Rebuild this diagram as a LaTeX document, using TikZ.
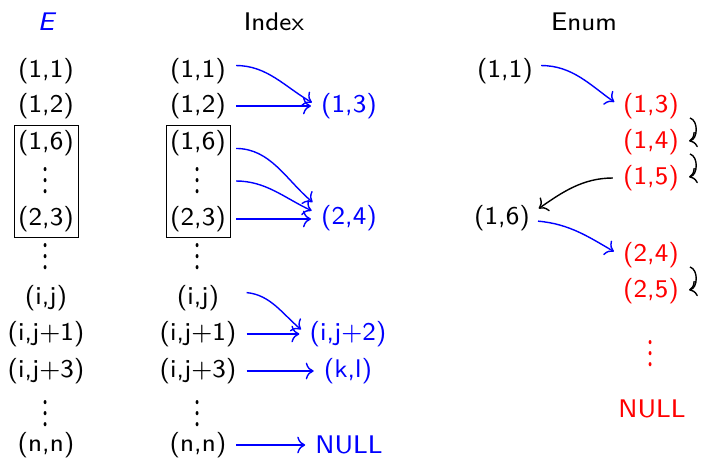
\documentclass[tikz,border=0pt]{standalone}
\usepackage{fontspec}
\setsansfont{lmsans8-regular.otf}[ItalicFont=lmsans8-oblique.otf]
\renewcommand{\familydefault}{\sfdefault}
\newfontfamily\lmmath{latinmodern-math.otf}
\usetikzlibrary{fit, arrows.meta}
\newcommand{\vdotsbig}{{\lmmath\scalebox{1.1}[1.55]{⋮}}}
\tikzstyle{cell}     = [inner sep=3pt]
\tikzstyle{cellblue} = [cell, text=blue]
\tikzstyle{cellred}  = [cell, text=red]
\tikzstyle{link}     = [-{To[scale=1.7]}, line width=1.4pt, draw=blue,
                        shorten <=7pt, shorten >=7pt]
\tikzstyle{back}     = [link, draw=black]
\tikzstyle{hop}      = [-{To[scale=1.6]}, line width=1.4pt, draw=black]

\begin{document}
\begin{tikzpicture}[x=1pt, y=-1pt, font=\fontsize{25.5}{30}\selectfont]
  \useasboundingbox (0,0) rectangle (702,460);

  %% -- headers --
  \node[cellblue] (hE) at (47,22) {\textit{E}};
  \node[cell] (hindex) at (274,22) {Index};
  \node[cell] (henum) at (584,22) {Enum};

  %% -- E column --
  \node[cell] (e11) at (46,71) {(1,1)};
  \node[cell] (e12) at (46,106) {(1,2)};
  \node[cell] (e16) at (46,143) {(1,6)};
  \node[cell] (edots1) at (46,181) {\vdotsbig};
  \node[cell] (e23) at (46,219) {(2,3)};
  \node[cell] (edots2) at (46,257) {\vdotsbig};
  \node[cell] (eij) at (46,298) {(i,j)};
  \node[cell] (eij1) at (46,334) {(i,j+1)};
  \node[cell] (eij3) at (46,371) {(i,j+3)};
  \node[cell] (edots3) at (46,414) {\vdotsbig};
  \node[cell] (enn) at (46,445) {(n,n)};
  \node[draw, line width=0.6pt, inner xsep=1pt, inner ysep=2pt, fit=(e16)(e23)] (ebox) {};

  %% -- Index column --
  \node[cell] (i11) at (198,71) {(1,1)};
  \node[cell] (i12) at (198,106) {(1,2)};
  \node[cell] (i16) at (198,143) {(1,6)};
  \node[cell] (idots1) at (198,181) {\vdotsbig};
  \node[cell] (i23) at (198,219) {(2,3)};
  \node[cell] (idots2) at (198,257) {\vdotsbig};
  \node[cell] (iij) at (198,298) {(i,j)};
  \node[cell] (iij1) at (198,334) {(i,j+1)};
  \node[cell] (iij3) at (198,371) {(i,j+3)};
  \node[cell] (idots3) at (198,414) {\vdotsbig};
  \node[cell] (inn) at (198,445) {(n,n)};
  \node[draw, line width=0.6pt, inner xsep=1pt, inner ysep=2pt, fit=(i16)(i23)] (ibox) {};

  %% -- Index targets --
  \node[cellblue] (t13) at (349,106) {(1,3)};
  \node[cellblue] (t24) at (349,218) {(2,4)};
  \node[cellblue] (tij2) at (348,334) {(i,j+2)};
  \node[cellblue] (tkl) at (348,371) {(k,l)};
  \node[cellblue] (tnull) at (349,445) {NULL};

  \coordinate (idots1out) at (i16.east |- idots1.center);
  \coordinate (iijout) at ([yshift=6pt]iij1.east |- iij.center);

  \draw[link] (i11.10) to[out=0, in=150] (t13.west);
  \draw[link] (i12) -- (t13);
  \draw[link] (i16.-10) to[out=0, in=140] (t24.160);
  \draw[link] (idots1out) to[out=0, in=155] (t24.172);
  \draw[link] (i23.east) -- (i23.east -| t24.west);
  \draw[link] (iijout) to[out=-5, in=140] (tij2.west);
  \draw[link] (iij1) -- (tij2);
  \draw[link] (iij3.east) -- (tkl.west);
  \draw[link] (inn) -- (tnull);

  %% -- Enum column --
  \node[cell] (n11) at (505,71) {(1,1)};
  \node[cell] (n16) at (502,218) {(1,6)};
  \node[cellred] (n13) at (651,106) {(1,3)};
  \node[cellred] (n14) at (651,142) {(1,4)};
  \node[cellred] (n15) at (651,178) {(1,5)};
  \node[cellred] (n24) at (651,255) {(2,4)};
  \node[cellred] (n25) at (651,291) {(2,5)};
  \node[cellred] (ndots) at (651,354) {\vdotsbig};
  \node[cellred] (nnull) at (652,409) {NULL};

  \draw[link, shorten <=5pt] (n11.10) to[out=0, in=145] (n13.west);
  \draw[back] (n15.west) to[out=180, in=35] (n16.10);
  \draw[link, shorten <=5pt] (n16.-5) to[out=-5, in=150] (n24.west);

  \draw[hop] ([xshift=8pt,yshift=-12pt]n13.east) to[bend left=75] ([xshift=7pt,yshift=1pt]n14.east);
  \draw[hop] ([xshift=8pt,yshift=-12pt]n14.east) to[bend left=75] ([xshift=7pt,yshift=1pt]n15.east);
  \draw[hop] ([xshift=8pt,yshift=-12pt]n24.east) to[bend left=75] ([xshift=7pt,yshift=1pt]n25.east);

\end{tikzpicture}
\end{document}
